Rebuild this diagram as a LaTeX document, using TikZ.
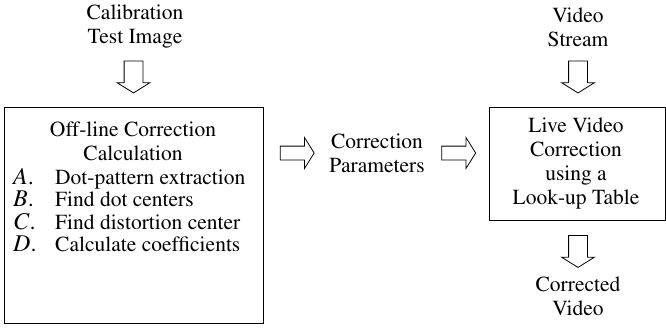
\documentclass[tikz,border=0pt]{standalone}
\usepackage[T1]{fontenc}
\renewcommand{\rmdefault}{ptm}
\usetikzlibrary{shapes.arrows,positioning}

\begin{document}
\begin{tikzpicture}[%
	x=1pt, y=-1pt,
	font=\rmfamily\fontsize{21.5}{24}\selectfont,
	txt/.style={align=center, inner sep=0pt},
	box/.style={draw, line width=0.9pt, inner sep=0pt},
	fat/.style={single arrow, draw, line width=0.8pt, inner sep=0pt,
		single arrow tip angle=116},
	vfat/.style={fat, rotate=-90, inner ysep=9pt, single arrow head extend=7pt, minimum height=32pt},
	hfat/.style={fat, inner ysep=6.5pt, single arrow head extend=8.5pt, minimum height=34pt},
	letter/.style={inner sep=0pt, anchor=base west, font=\rmfamily\fontsize{24}{24}\selectfont\itshape}
]
\useasboundingbox (0,0) rectangle (666,335);

\node[txt] (calib) at (135,27) {Calibration\\Test Image};
\node[txt] (video) at (578,27) {Video\\Stream};

\node[box, minimum width=259pt, minimum height=216pt] (offline) at (133.5,215) {};
\node[txt] (offtitle) at (133,141) {Off-line Correction\\Calculation};

\foreach \l/\t/\y [count=\i] in {A/Dot-pattern extraction/184,
		B/Find dot centers/206.5,
		C/Find distortion center/229,
		D/Calculate coefficients/251.5}
{
	\node[letter] (letter\i) at (13,\y) {\l\/\upshape.};
	\node[txt, anchor=base west] (step\i) at (55,\y) {\t};
}

\node[txt] (params) at (377,153) {Correction\\Parameters};

\node[box, minimum width=176pt, minimum height=113pt] (live) at (577,163.5) {};
\node[txt] (livetext) at (576,164) {Live Video\\Correction\\using a\\Look-up Table};

\node[txt] (corrected) at (578,296) {Corrected\\Video};

% block arrows between the parts
\node[vfat] (a1) at (133.5,74) {};
\node[vfat] (a4) at (578,74) {};
\node[vfat] (a5) at (578,248.5) {};
\node[hfat] (a2) at (295,153) {};
\node[hfat] (a3) at (456.5,153) {};

\end{tikzpicture}
\end{document}
